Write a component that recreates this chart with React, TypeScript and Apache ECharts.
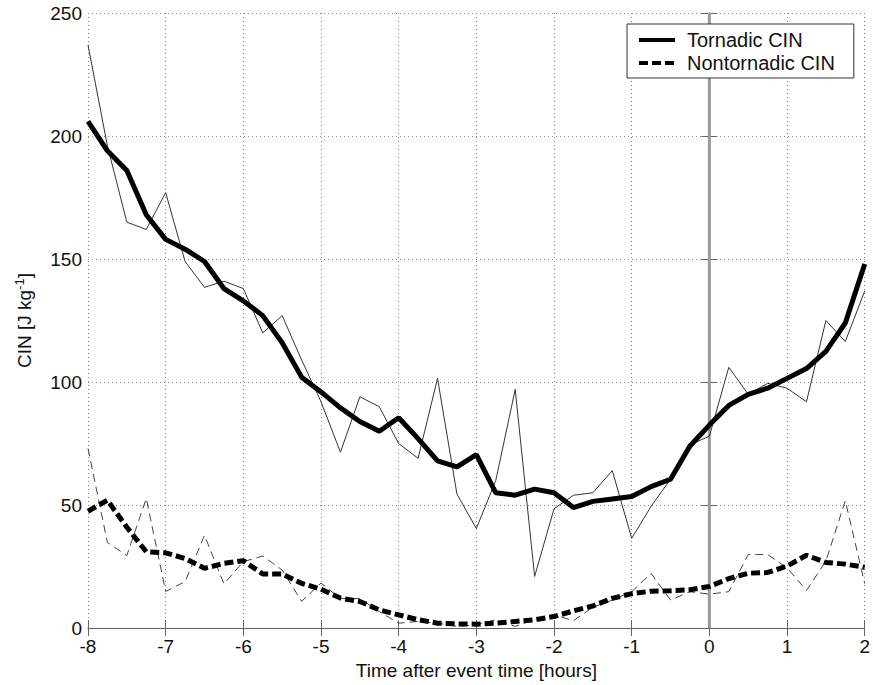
import React, { useEffect, useRef } from "react";
import * as echarts from "echarts";

const times = [
  -8, -7.75, -7.5, -7.25, -7, -6.75, -6.5, -6.25, -6, -5.75, -5.5, -5.25, -5, -4.75,
  -4.5, -4.25, -4, -3.75, -3.5, -3.25, -3, -2.75, -2.5, -2.25, -2, -1.75, -1.5, -1.25,
  -1, -0.75, -0.5, -0.25, 0, 0.25, 0.5, 0.75, 1, 1.25, 1.5, 1.75, 2,
];

const tornadicMean = [
  206, 194, 186, 168, 158, 154, 149, 138, 133, 127, 116, 102, 96, 89.5,
  84, 80, 85.5, 77, 68, 65.5, 70.5, 55, 54, 56.5, 55, 49, 51.5, 52.5,
  53.5, 57.5, 60.5, 74, 82.5, 90.5, 95, 97.5, 101.5, 105.5, 112.5, 124, 148,
];

const tornadicRaw = [
  237, 196, 165, 162, 177, 149, 138.5, 141, 138, 120, 127, 109, 92, 71.5,
  94, 90, 75, 69, 101.5, 54.5, 40.5, 60, 97, 21, 48.5, 54, 55, 64,
  36.5, 49.5, 60.5, 74.5, 78, 106, 95, 99.5, 97.5, 92, 125, 116.5, 137,
];

const nontornadicMean = [
  47.5, 52, 41, 31, 30.6, 28.3, 24.3, 26.3, 27.4, 22, 22, 18.2, 15.8, 12.2,
  10.8, 7.4, 5.4, 3.4, 2, 1.7, 1.6, 2, 2.7, 3.4, 4.7, 7, 9, 12.1,
  14, 15, 15.2, 15.6, 16.9, 20.1, 22.3, 22.6, 25.2, 29.6, 26.7, 26, 24.7,
];

const nontornadicRaw = [
  73, 34.8, 29.5, 52.7, 14.9, 18.9, 37.7, 18, 27, 29.3, 23.6, 10.9, 18.3, 12,
  12, 6.7, 2, 2.7, 2, 0.7, 1.3, 3.4, 0.7, 3.4, 5.4, 3, 8.5, 11.4,
  14.8, 22.2, 11.4, 14.8, 13.8, 14.8, 29.9, 29.9, 24.5, 15.3, 27.2, 51.8, 18.1,
];

const eventLine = [
  [0, 0],
  [0, 250],
];

const xTitle = "Time after event time [hours]";
const legendNames = ["Tornadic CIN", "Nontornadic CIN"];

const pair = (vals: number[]) => times.map((t, i) => [t, vals[i]]);

const FONT = "'Liberation Sans', Arial, Helvetica, sans-serif";

export default function App() {
  const ref = useRef<HTMLDivElement>(null);

  useEffect(() => {
    if (!ref.current) return;
    const chart = echarts.init(ref.current, undefined, { renderer: "svg" });
    const axisLine = { show: true, lineStyle: { color: "#666", width: 1 } };
    const tick = { show: true, inside: true, length: 8, lineStyle: { color: "#666" } };
    chart.setOption({
      animation: false,
      backgroundColor: "#fff",
      textStyle: { fontFamily: FONT },
      grid: { left: 88, right: 5, top: 13, bottom: 53, containLabel: false },
      legend: {
        data: legendNames,
        orient: "vertical",
        left: 627,
        top: 24,
        padding: [6, 19, 5, 10],
        itemWidth: 36,
        itemHeight: 14,
        itemGap: 3,
        backgroundColor: "#fff",
        borderColor: "#333",
        borderWidth: 1,
        borderRadius: 0,
        itemStyle: { opacity: 0 },
        lineStyle: { width: 4 },
        textStyle: {
          fontSize: 20,
          color: "#111",
          fontFamily: FONT,
          padding: [0, 0, 0, 7],
        },
        z: 20,
      },
      xAxis: [
        {
          type: "value",
          min: -8,
          max: 2,
          interval: 1,
          name: xTitle,
          nameLocation: "middle",
          nameGap: 32,
          nameTextStyle: { fontSize: 19, color: "#111", fontFamily: FONT },
          axisLine,
          axisTick: tick,
          axisLabel: { fontSize: 19, color: "#111", margin: 9, fontFamily: FONT },
          splitLine: { show: true, lineStyle: { color: "#888", type: [1, 3], width: 1 } },
        },
        {
          type: "value",
          position: "top",
          min: -8,
          max: 2,
          interval: 1,
          axisLine,
          axisTick: tick,
          axisLabel: { show: false },
          splitLine: { show: false },
        },
      ],
      yAxis: [
        {
          type: "value",
          min: 0,
          max: 250,
          interval: 50,
          name: "CIN [J kg{sup|-1}]",
          nameLocation: "middle",
          nameRotate: 90,
          nameGap: 52,
          nameTextStyle: {
            fontSize: 19,
            color: "#111",
            fontFamily: FONT,
            rich: {
              sup: { fontSize: 13, color: "#111", fontFamily: FONT, padding: [0, 0, 10, 0] },
            },
          },
          axisLine,
          axisTick: tick,
          axisLabel: { fontSize: 19, color: "#111", margin: 6, fontFamily: FONT },
          splitLine: { show: true, lineStyle: { color: "#888", type: [1, 3], width: 1 } },
        },
        {
          type: "value",
          position: "right",
          min: 0,
          max: 250,
          interval: 50,
          axisLine,
          axisTick: tick,
          axisLabel: { show: false },
          splitLine: { show: false },
        },
      ],
      series: [
        {
          name: "event",
          type: "line",
          data: eventLine,
          symbol: "none",
          lineStyle: { color: "#999", width: 3 },
          z: 1,
          silent: true,
        },
        {
          name: "Tornadic raw",
          type: "line",
          data: pair(tornadicRaw),
          symbol: "none",
          lineStyle: { color: "#333", width: 1 },
          z: 2,
        },
        {
          name: "Nontornadic raw",
          type: "line",
          data: pair(nontornadicRaw),
          symbol: "none",
          lineStyle: { color: "#444", width: 1, type: [8, 5] },
          z: 2,
        },
        {
          name: "Tornadic CIN",
          type: "line",
          data: pair(tornadicMean),
          symbol: "none",
          itemStyle: { color: "#000" },
          lineStyle: { color: "#000", width: 5 },
          z: 3,
        },
        {
          name: "Nontornadic CIN",
          type: "line",
          data: pair(nontornadicMean),
          symbol: "none",
          itemStyle: { color: "#000" },
          lineStyle: { color: "#000", width: 5, type: [9, 4] },
          z: 3,
        },
      ],
    });
    return () => chart.dispose();
  }, []);

  return (
    <div
      ref={ref}
      style={{ position: "fixed", left: 0, top: 0, width: 873, height: 685, background: "#fff" }}
    />
  );
}
